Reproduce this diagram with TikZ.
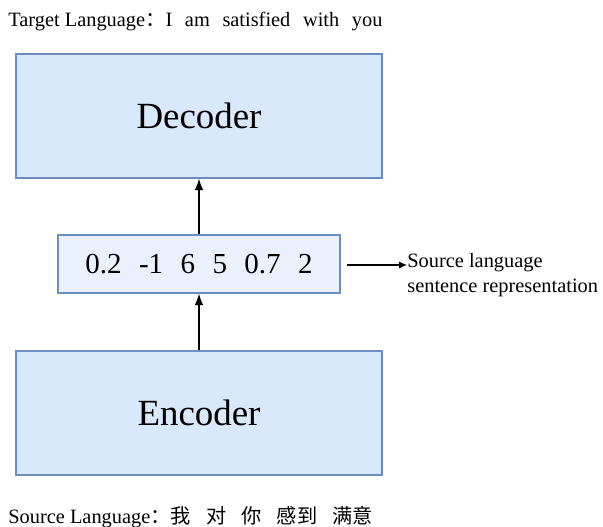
\documentclass[tikz,border=0pt]{standalone}
\usepackage{fontspec}
\setmainfont{Liberation Serif}
\newfontfamily\cjk{Noto Sans CJK SC}
\usetikzlibrary{arrows.meta}

\definecolor{boxfill}{HTML}{DAE8FC}
\definecolor{vecfill}{HTML}{EAF1FD}
\definecolor{boxline}{HTML}{6C8EBF}

\tikzset{
  block/.style={draw=boxline,line width=0.9pt,fill=boxfill,minimum width=7.32cm,minimum height=2.48cm,font=\fontsize{21}{24}\selectfont},
  vecbox/.style={draw=boxline,line width=0.9pt,fill=vecfill,minimum width=5.64cm,minimum height=1.16cm,font=\fontsize{16.5}{19}\selectfont},
  lbl/.style={font=\fontsize{11.6}{14.2}\selectfont,inner sep=0pt},
  arr/.style={line width=0.6pt,-{Latex[length=6.5pt,width=5pt]}}
}
\newcommand{\gap}{\hspace{0.6em}}
\newcommand{\wgap}{\hspace{0.62em}}
\newcommand{\cgap}{\hspace{0.75em}}

\begin{document}
\begin{tikzpicture}[x=0.02cm,y=-0.02cm]
    \useasboundingbox (0,0) rectangle (603,527);

    \node[block] (dec) at (199,116) {Decoder};
    \node[vecbox] (vec) at (199,264) {0.2\gap-1\gap6\gap5\gap0.7\gap2};
    \node[block] (enc) at (199,413) {Encoder};

    \draw[arr] (enc.north) -- (vec.south);
    \draw[arr] (vec.north) -- (dec.south);

    % label on the right
    \node[lbl,anchor=west,align=left] (rep) at (407,275) {Source language\\sentence representation};
    \coordinate (s) at (347,265);
    \draw[line width=0.6pt,-{Latex[length=4.5pt,width=4pt]}] (s) -- (s -| rep.west);

    \node[lbl,anchor=west] (tgt) at (8,22) {Target Language{\cjk ：}I\wgap am\wgap satisfied\wgap with\wgap you};
    \node[lbl,anchor=west] (src) at (8,517) {Source Language{\cjk ：}{\cjk\fontsize{11.5}{14}\selectfont 我\cgap 对\cgap 你\cgap 感到\cgap 满意}};
\end{tikzpicture}
\end{document}
